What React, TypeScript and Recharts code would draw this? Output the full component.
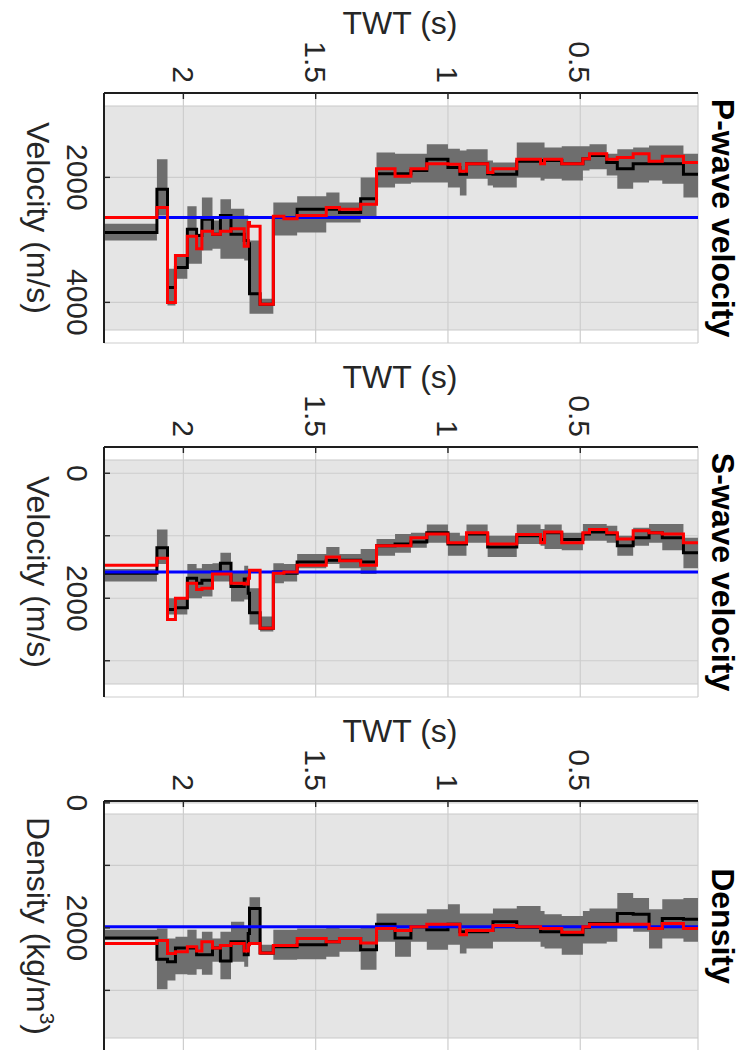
import React from 'react'
import { ComposedChart, Area, Line, XAxis, YAxis, CartesianGrid, ReferenceArea, ReferenceLine } from 'recharts'

// layer boundaries in two-way time (s), shared by the three panels
const twtEdges = [
  2.3, 2.1, 2.06, 2.03, 1.985, 1.95, 1.93, 1.89, 1.86, 1.82, 1.77, 1.755, 1.75, 1.71, 1.66, 1.62, 1.57,
  1.46, 1.41, 1.33, 1.27, 1.2, 1.14, 1.08, 1.0, 0.955, 0.93, 0.85, 0.83, 0.74, 0.65, 0.635, 0.57, 0.49,
  0.465, 0.4, 0.36, 0.3, 0.24, 0.19, 0.11, 0.055,
]
const twtTicks = [2, 1.5, 1, 0.5]

// P-wave velocity (m/s)
const pBlack = [2880, 2190, 3760, 3440, 2830, 2930, 2670, 2910, 2610, 2910, 3010, 3060, 3860, 4030, 2640, 2640, 2510, 2510, 2560, 2340, 1940, 1940, 1890, 1710, 1840, 1950, 1780, 1940, 1950, 1740, 1730, 1730, 1780, 1700, 1650, 1760, 1860, 1780, 1780, 1780, 1950]
const pRed = [2640, 2480, 4000, 3250, 2940, 3140, 2860, 2910, 2860, 2820, 3100, 2720, 2780, 4030, 2620, 2660, 2610, 2480, 2510, 2430, 1860, 1980, 1860, 1780, 1790, 1900, 1780, 1920, 1860, 1710, 1780, 1710, 1780, 1700, 1620, 1710, 1680, 1620, 1740, 1660, 1760]
const pLo = [2740, 1710, 3460, 3250, 2460, 2900, 2320, 2690, 2350, 2500, 2610, 3010, 3010, 3940, 2400, 2400, 2300, 2240, 2400, 2000, 1600, 1620, 1620, 1470, 1540, 1570, 1550, 1730, 1760, 1440, 1440, 1520, 1500, 1500, 1470, 1620, 1550, 1520, 1490, 1490, 1620]
const pHi = [3010, 2610, 4050, 3620, 3380, 3380, 3170, 3140, 3300, 3300, 3330, 3810, 4180, 4180, 2930, 2930, 2880, 2720, 2720, 2640, 2160, 2100, 2080, 2080, 2160, 2290, 2020, 2130, 2160, 2000, 2050, 2020, 2050, 1890, 1870, 1970, 2180, 2080, 2050, 2100, 2320]
const pBlue = 2640

// S-wave velocity (m/s)
const sBlack = [1600, 1190, 2180, 2150, 1680, 1760, 1710, 1580, 1440, 1810, 1690, 1920, 2230, 2480, 1580, 1600, 1420, 1390, 1390, 1420, 1160, 1130, 1100, 950, 1130, 1130, 970, 1180, 1180, 1000, 1060, 950, 1060, 970, 940, 970, 1160, 1030, 950, 1030, 1270]
const sRed = [1470, 1360, 2340, 2000, 1760, 1860, 1840, 1610, 1610, 1760, 1770, 1680, 1550, 2480, 1600, 1580, 1470, 1340, 1400, 1470, 1160, 1160, 1030, 970, 1110, 1110, 950, 1130, 1130, 980, 1110, 940, 1110, 950, 900, 950, 1050, 920, 950, 970, 1110]
const sLo = [1530, 900, 2000, 2000, 1450, 1520, 1450, 1440, 1270, 1570, 1480, 1650, 1840, 2290, 1440, 1450, 1290, 1180, 1290, 1210, 1050, 970, 950, 820, 950, 1000, 820, 1000, 1000, 820, 890, 820, 950, 810, 810, 840, 1000, 870, 810, 810, 1030]
const sHi = [1730, 1450, 2260, 2260, 2000, 2000, 1970, 1730, 1730, 2050, 2020, 2130, 2420, 2530, 1760, 1730, 1520, 1450, 1520, 1610, 1320, 1270, 1190, 1110, 1320, 1320, 1110, 1340, 1340, 1130, 1160, 1210, 1230, 1080, 1080, 1110, 1320, 1160, 1110, 1230, 1520]
const sBlue = 1580

// Density (kg/m3)
const dBlack = [2160, 2500, 2540, 2320, 2320, 2430, 2430, 2320, 2530, 2220, 2430, 2090, 1690, 2400, 2300, 2300, 2270, 2220, 2170, 2350, 1940, 2160, 1980, 2030, 1940, 2060, 2060, 2040, 1900, 1990, 2060, 2060, 2110, 1990, 1930, 1930, 1770, 1780, 2010, 1850, 1860]
const dRed = [2250, 2200, 2410, 2380, 2300, 2370, 2220, 2320, 2280, 2250, 2370, 2270, 2250, 2400, 2280, 2280, 2170, 2220, 2170, 2240, 2010, 2040, 1980, 1940, 1940, 2110, 2040, 2040, 1960, 1980, 2010, 2010, 2070, 1980, 1940, 1940, 1940, 1940, 2010, 1930, 2010]
const dLo = [2030, 2010, 2170, 2140, 2030, 2170, 2060, 2170, 2060, 1900, 1980, 1650, 1510, 2270, 2030, 2030, 2010, 1980, 2010, 1990, 1770, 1770, 1770, 1700, 1620, 1770, 1770, 1770, 1690, 1650, 1730, 1780, 1810, 1730, 1690, 1690, 1440, 1520, 1700, 1540, 1520]
const dHi = [2190, 2980, 2840, 2740, 2750, 2660, 2750, 2540, 2820, 2540, 2620, 2380, 2270, 2430, 2510, 2510, 2500, 2460, 2380, 2670, 2220, 2460, 2220, 2350, 2270, 2410, 2330, 2330, 2220, 2220, 2300, 2330, 2430, 2250, 2250, 2220, 2010, 2060, 2330, 2170, 2220]
const dBlue = 1980

const FONT = '"Liberation Sans", Arial, Helvetica, sans-serif'
const INK = '#262626'
const W = 740
const H = 354
const TOP = 93
const LEFT = 104
const RIGHT = 42
const BOTTOM = 11
const TICK_FS = 30
const LABEL_FS = 32

function buildRows(black: number[], red: number[], lo: number[], hi: number[], blue: number) {
  return twtEdges.map((t, i) => {
    const k = Math.min(i, black.length - 1)
    return { t, black: black[k], red: red[k], band: [lo[k], hi[k]], blue }
  })
}

const panels = [
  {
    title: 'P-wave velocity',
    label: 'Velocity (m/s)',
    domain: [650, 4650],
    gray: [858, 4442],
    ticks: [2000, 4000],
    shown: [2000, 4000],
    rows: buildRows(pBlack, pRed, pLo, pHi, pBlue),
  },
  {
    title: 'S-wave velocity',
    label: 'Velocity (m/s)',
    domain: [-420, 3580],
    gray: [-212, 3372],
    ticks: [0, 1000, 2000, 3000],
    shown: [0, 2000],
    rows: buildRows(sBlack, sRed, sLo, sHi, sBlue),
  },
  {
    title: 'Density',
    label: 'Density (kg/m',
    sup: true,
    domain: [-30, 3970],
    gray: [178, 3762],
    ticks: [0, 1000, 2000, 3000],
    shown: [0, 2000],
    rows: buildRows(dBlack, dRed, dLo, dHi, dBlue),
  },
]

function TwtTick(props: any) {
  const { x, payload } = props
  const ax = x - TICK_FS * 0.36
  const ay = TOP - 10
  return (
    <g>
      <line x1={x} y1={TOP} x2={x} y2={TOP + 6} stroke={INK} strokeWidth={1.4} />
      <text x={ax} y={ay} transform={`rotate(90 ${ax} ${ay})`} textAnchor="end" fontSize={TICK_FS} fill={INK} fontFamily={FONT}>
        {payload.value}
      </text>
    </g>
  )
}

function makeValueTick(shown: number[]) {
  return (props: any) => {
    const { y, payload } = props
    const ax = 67
    return (
      <g>
        <line x1={LEFT} y1={y} x2={LEFT + 6} y2={y} stroke={INK} strokeWidth={1.4} />
        {shown.includes(payload.value) && (
          <text x={ax} y={y} transform={`rotate(90 ${ax} ${y})`} textAnchor="middle" fontSize={TICK_FS} fill={INK} fontFamily={FONT}>
            {payload.value}
          </text>
        )}
      </g>
    )
  }
}

function Panel({ p, top }: { p: any; top: number }) {
  const midY = TOP + (H - TOP - BOTTOM) / 2
  return (
    <div style={{ position: 'absolute', left: 0, top, width: W, height: H }}>
      <ComposedChart width={W} height={H} data={p.rows} margin={{ top: 0, right: RIGHT, bottom: BOTTOM, left: 0 }}>
        <ReferenceArea y1={p.gray[0]} y2={p.gray[1]} fill="#e5e5e5" fillOpacity={1} stroke="none" zIndex={-200} />
        <ReferenceLine y={p.gray[0]} stroke="#c9c9c9" strokeWidth={1} zIndex={-150} />
        <ReferenceLine y={p.gray[1]} stroke="#c9c9c9" strokeWidth={1} zIndex={-150} />
        <CartesianGrid stroke="#cdcdcd" strokeWidth={1.2} />
        <XAxis
          type="number"
          dataKey="t"
          orientation="top"
          domain={[0.055, 2.3]}
          reversed
          allowDataOverflow
          ticks={twtTicks}
          interval={0}
          height={TOP}
          tickLine={false}
          axisLine={{ stroke: '#1e1e1e', strokeWidth: 2 }}
          tick={<TwtTick />}
        />
        <YAxis
          type="number"
          domain={p.domain}
          reversed
          allowDataOverflow
          ticks={p.ticks}
          interval={0}
          width={LEFT}
          tickLine={false}
          axisLine={{ stroke: '#1e1e1e', strokeWidth: 2 }}
          tick={makeValueTick(p.shown)}
        />
        <Area dataKey="band" type="stepAfter" fill="#6e6e6e" fillOpacity={1} stroke="none" dot={false} activeDot={false} isAnimationActive={false} />
        <Line dataKey="black" type="stepAfter" stroke="#000000" strokeWidth={3} dot={false} activeDot={false} isAnimationActive={false} />
        <Line dataKey="blue" type="linear" stroke="#0000ff" strokeWidth={3} dot={false} activeDot={false} isAnimationActive={false} />
        <Line dataKey="red" type="stepAfter" stroke="#ff0000" strokeWidth={3} dot={false} activeDot={false} isAnimationActive={false} />
      </ComposedChart>
      <svg width={W} height={H} style={{ position: 'absolute', left: 0, top: 0, pointerEvents: 'none' }}>
        <text x={400} y={34} textAnchor="middle" fontSize={LABEL_FS} fill={INK} fontFamily={FONT}>
          TWT (s)
        </text>
        <text x={27} y={midY} transform={`rotate(90 27 ${midY})`} textAnchor="middle" fontSize={LABEL_FS} fill={INK} fontFamily={FONT}>
          {p.label}
          {p.sup && (
            <>
              <tspan dy={-13} fontSize={21}>3</tspan>
              <tspan dy={13}>)</tspan>
            </>
          )}
        </text>
        <text x={712} y={midY} transform={`rotate(90 712 ${midY})`} textAnchor="middle" fontSize={LABEL_FS} fontWeight="bold" fill="#000" fontFamily={FONT}>
          {p.title}
        </text>
      </svg>
    </div>
  )
}

export default function App() {
  return (
    <div style={{ position: 'absolute', left: 0, top: 0, width: W, height: 1050, background: '#fff', overflow: 'hidden' }}>
      {panels.map((p, i) => (
        <Panel key={p.title} p={p} top={i * H} />
      ))}
    </div>
  )
}
